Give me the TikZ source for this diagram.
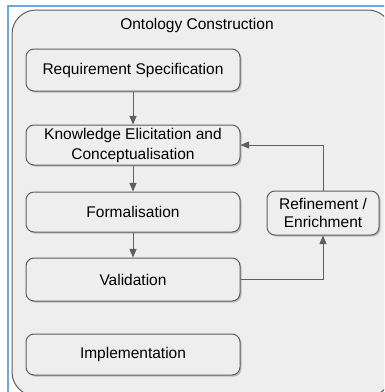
\documentclass[tikz,border=0pt]{standalone}
\usepackage{fontspec}
\setmainfont{Liberation Sans}
\usepackage{tikz}
\usetikzlibrary{arrows,shadows}
\definecolor{panelgray}{HTML}{EEEEEE}
\definecolor{linegray}{HTML}{5F5F5F}
\definecolor{frameblue}{HTML}{6FA8DC}
\tikzstyle{stage} = [draw=linegray, line width=1pt, fill=panelgray, rounded corners=8pt,
	minimum width=214pt, minimum height=42pt, align=center, inner sep=0pt,
	font=\fontsize{15.5}{20}\selectfont,
	drop shadow={shadow xshift=1.6pt, shadow yshift=-1.6pt, opacity=0.45}]
\tikzstyle{flow} = [draw=linegray, line width=1pt, ->, >=triangle 45]

\begin{document}
\begin{tikzpicture}[x=1pt, y=-1pt]
				\useasboundingbox (0,0) rectangle (384,392);
				\begin{scope}
				\clip (0,0) rectangle (384,392);
				% outer panel
				\draw [draw=linegray, line width=1pt, fill=panelgray, rounded corners=24pt,
					drop shadow={shadow xshift=1pt, shadow yshift=-1pt, opacity=0.3}]
					(12,10) rectangle (392,396);
				% blue frame
				\draw [frameblue, line width=1.5pt] (8,392) -- (8,6) -- (386,6);
				\end{scope}
				
				\node (title) at (197,25) {\fontsize{15.5}{18}\selectfont Ontology Construction};
				
				\node [stage] (req)  at (133,70)  {Requirement Specification};
				\node [stage, minimum height=40pt] (know) at (133,145) {Knowledge Elicitation and\\Conceptualisation};
				\node [stage, minimum height=40pt] (form) at (133,212) {Formalisation};
				\node [stage, minimum height=43pt] (val)  at (133,279.5) {Validation};
				\node [stage, minimum height=41pt] (impl) at (133,354.5) {Implementation};
				\node [stage, minimum width=112pt, minimum height=44pt,
					font=\fontsize{15.5}{17.5}\selectfont] (ref) at (323,213) {Refinement /\\Enrichment};
				
				\draw [flow] (req) -- (know);
				\draw [flow] (know) -- (form);
				\draw [flow] (form) -- (val);
				\draw [flow] (val.east) -| (ref.south);
				\draw [flow] (ref.north) |- (know.east);
				
				\end{tikzpicture}
\end{document}
